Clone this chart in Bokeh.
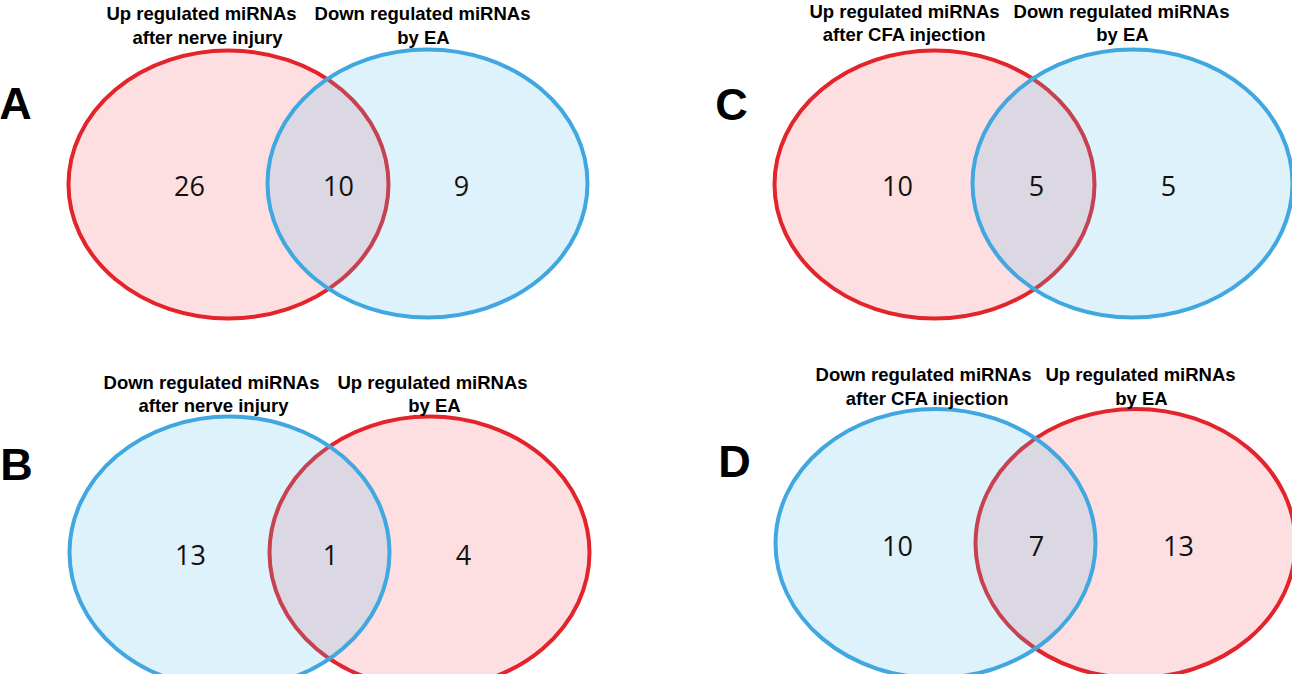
from bokeh.plotting import figure
from bokeh.models import Range1d, ColumnDataSource
from bokeh.embed import file_html
from bokeh.resources import INLINE
from bokeh.core.properties import value

# ---------------- data ----------------
panel_letters = ["A", "B", "C", "D"]
left_title_1 = ["Up regulated miRNAs", "Down regulated miRNAs", "Up regulated miRNAs", "Down regulated miRNAs"]
left_title_2 = ["after nerve injury", "after nerve injury", "after CFA injection", "after CFA injection"]
right_title_1 = ["Down regulated miRNAs", "Up regulated miRNAs", "Down regulated miRNAs", "Up regulated miRNAs"]
right_title_2 = ["by EA", "by EA", "by EA", "by EA"]
left_only = [26, 13, 10, 10]
overlap = [10, 1, 5, 7]
right_only = [9, 4, 5, 13]
left_is_up = [True, False, True, False]   # red = up regulated, blue = down regulated

# ---------------- layout (pixel positions of the reference page) ----------------
layout = {
    "A": dict(lc=(236, 192), rc=(435, 191), h=268, letter=(23, 111), ty=(21, 45),
              lt=(209, 215), rt=(430, 431), nx=(197, 346, 469), ny=193),
    "B": dict(lc=(237, 560), rc=(437, 560), h=272, letter=(24, 472), ty=(390, 413),
              lt=(219, 221), rt=(440, 442), nx=(198, 338, 471), ny=562),
    "C": dict(lc=(942, 192), rc=(1140, 191), h=268, letter=(739, 112), ty=(19, 42),
              lt=(912, 912), rt=(1129, 1130), nx=(905, 1044, 1176), ny=193),
    "D": dict(lc=(943, 551), rc=(1143, 551), h=269, letter=(742, 469), ty=(382, 406),
              lt=(931, 935), rt=(1148, 1149), nx=(905, 1044, 1186), ny=553),
}
ELL_W = 320

RED_LINE = "#E3242B"
RED_FILL = "#FDDFE1"
BLUE_LINE = "#41A7E1"
BLUE_FILL = "#5ABEEB"

p = figure(width=1292, height=674, x_range=Range1d(8, 1300), y_range=Range1d(682, 8),
           output_backend="svg", toolbar_location=None, min_border=0)
p.axis.visible = False
p.xgrid.visible = False
p.ygrid.visible = False
p.outline_line_color = None
p.background_fill_color = "white"
p.border_fill_color = "white"

TITLE_FONT = value("Liberation Sans")
NUM_FONT = value("Open Sans")

for i, name in enumerate(panel_letters):
    L = layout[name]
    up_c, down_c = (L["lc"], L["rc"]) if left_is_up[i] else (L["rc"], L["lc"])
    # red (up regulated) set first, opaque light fill
    p.ellipse(x=[up_c[0]], y=[up_c[1]], width=ELL_W, height=L["h"],
              fill_color=RED_FILL, fill_alpha=1.0, line_color=RED_LINE, line_width=4)
    # blue (down regulated) set over it, translucent fill
    p.ellipse(x=[down_c[0]], y=[down_c[1]], width=ELL_W, height=L["h"],
              fill_color=BLUE_FILL, fill_alpha=0.2, line_color=BLUE_LINE, line_width=4)

    # counts
    src = ColumnDataSource(dict(x=list(L["nx"]), y=[L["ny"]] * 3,
                                t=[str(left_only[i]), str(overlap[i]), str(right_only[i])]))
    p.text(x="x", y="y", text="t", source=src, text_font=NUM_FONT, text_font_size="27px",
           text_align="center", text_baseline="middle", text_color="#111111")

    # set titles
    tsrc = ColumnDataSource(dict(
        x=[L["lt"][0], L["lt"][1], L["rt"][0], L["rt"][1]],
        y=[L["ty"][0], L["ty"][1], L["ty"][0], L["ty"][1]],
        t=[left_title_1[i], left_title_2[i], right_title_1[i], right_title_2[i]]))
    p.text(x="x", y="y", text="t", source=tsrc, text_font=TITLE_FONT, text_font_style="bold",
           text_font_size="18.5px", text_align="center", text_baseline="middle", text_color="black")

    # panel letter
    p.text(x=[L["letter"][0]], y=[L["letter"][1]], text=[name], text_font=TITLE_FONT,
           text_font_style="bold", text_font_size="45px", text_align="center",
           text_baseline="middle", text_color="black")

open("out.html", "w").write(file_html(p, INLINE))
